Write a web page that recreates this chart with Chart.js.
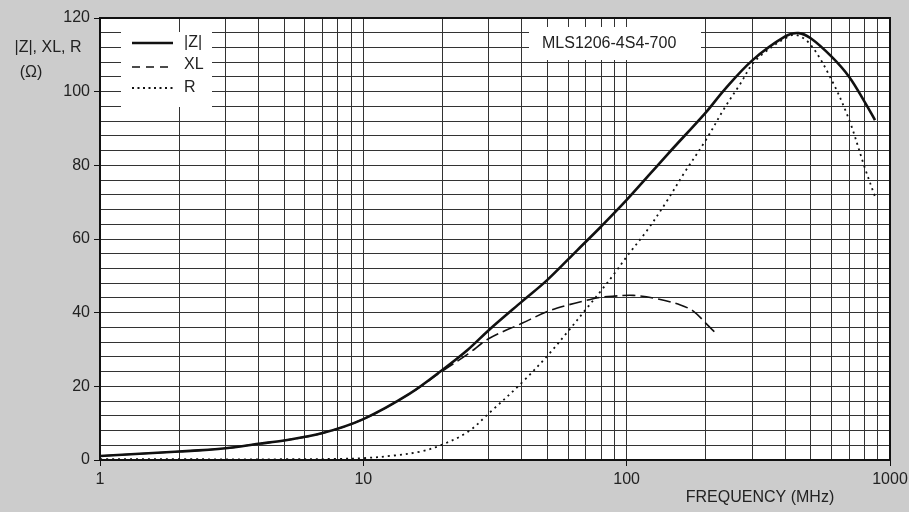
<!DOCTYPE html>
<html>
<head>
<meta charset="utf-8">
<script src="https://cdn.jsdelivr.net/npm/chart.js@4"></script>
<style>
  html, body { margin: 0; padding: 0; background: #cccccc; }
  #wrap { width: 909px; height: 512px; }
</style>
</head>
<body>
<div id="wrap"><canvas id="chart" width="909" height="512"></canvas></div>
<script>
// |Z| curve
const zFreq = [1, 2, 3, 4, 5, 7, 10, 15, 20, 25, 30, 40, 50, 65, 80, 100, 143, 200, 235, 300, 400, 450, 500, 600, 700, 800, 877];
const zVals = [1.1, 2.3, 3.2, 4.4, 5.3, 7.3, 11.1, 18, 24.5, 30, 35.3, 43, 48.9, 57, 63.4, 70.6, 83, 94.4, 100.5, 108.5, 115, 115.9, 114.5, 109.5, 104, 97.3, 92.3];

// XL curve
const xlFreq = [1, 2, 3, 4, 5, 7, 10, 15, 20, 25, 30, 40, 50, 60, 70, 80, 90, 106, 130, 160, 180, 200, 218];
const xlVals = [1.1, 2.3, 3.2, 4.4, 5.3, 7.3, 11.1, 18, 24.2, 28.8, 33, 37.1, 40.3, 42.1, 43.3, 44.2, 44.5, 44.7, 43.8, 42.1, 40.3, 37.1, 34.4];

// R curve
const rFreq = [1, 2, 5, 8, 10, 13, 16.5, 20, 25, 30, 40, 50, 60, 70, 80, 90, 100, 120, 143, 165, 200, 235, 271, 300, 332, 400, 440, 500, 600, 700, 800, 877];
const rVals = [0.2, 0.2, 0.2, 0.3, 0.5, 1.2, 2.3, 4.2, 7.7, 12.7, 21, 28.3, 35, 40.9, 46, 50.7, 55.2, 62.5, 70.6, 77.8, 86.9, 95.5, 102.3, 107.5, 110.5, 114.5, 115.4, 112.7, 103.2, 92.3, 79.6, 71.5];

const xTicks = [1, 2, 3, 4, 5, 6, 7, 8, 9, 10, 20, 30, 40, 50, 60, 70, 80, 90, 100, 200, 300, 400, 500, 600, 700, 800, 900, 1000];
const xLabels = [1, 10, 100, 1000];
const yLabelStep = 20;

const partName = "MLS1206-4S4-700";
const yTitle = ["|Z|, XL, R", "(Ω)"];
const xTitle = "FREQUENCY (MHz)";

const FONT = "'Liberation Sans', Arial, sans-serif";
const INK = "#222";

function pts(xs, ys) {
  return xs.map((x, i) => ({ x: x, y: ys[i] }));
}

const series = [
  { label: "|Z|", data: pts(zFreq, zVals), width: 2.6, dash: [] },
  { label: "XL", data: pts(xlFreq, xlVals), width: 1.6, dash: [13, 5] },
  { label: "R", data: pts(rFreq, rVals), width: 1.8, dash: [2, 4] },
];

// fond blanc de la zone de tracé + cadre
const plotFrame = {
  id: "plotFrame",
  beforeDraw(chart) {
    const { ctx, chartArea: a } = chart;
    ctx.save();
    ctx.fillStyle = "#ffffff";
    ctx.fillRect(a.left, a.top, a.right - a.left, a.bottom - a.top);
    ctx.restore();
  },
  afterDraw(chart) {
    const { ctx, chartArea: a } = chart;
    ctx.save();
    ctx.strokeStyle = "#111";
    ctx.lineWidth = 2;
    ctx.strokeRect(a.left, a.top, a.right - a.left, a.bottom - a.top);
    ctx.restore();
  },
};

// légende, étiquette de la référence et titres des axes
const annotations = {
  id: "annotations",
  afterDatasetsDraw(chart) {
    const { ctx } = chart;
    ctx.save();

    // boîte de légende
    ctx.fillStyle = "#ffffff";
    ctx.fillRect(121, 32, 91, 75);
    const rows = [43, 67, 88];
    series.forEach((s, i) => {
      ctx.beginPath();
      ctx.strokeStyle = "#111";
      ctx.lineWidth = s.width;
      ctx.setLineDash(i === 1 ? [8, 6] : i === 2 ? [2, 3.5] : []);
      ctx.moveTo(132, rows[i]);
      ctx.lineTo(173, rows[i]);
      ctx.stroke();
      ctx.setLineDash([]);
      ctx.fillStyle = INK;
      ctx.font = "16px " + FONT;
      ctx.textBaseline = "middle";
      ctx.textAlign = "left";
      ctx.fillText(s.label, 184, rows[i] - (i === 1 ? 2 : 0));
    });

    // étiquette de la pièce
    ctx.fillStyle = "#ffffff";
    ctx.fillRect(529, 27, 172, 33);
    ctx.fillStyle = INK;
    ctx.font = "16px " + FONT;
    ctx.textBaseline = "middle";
    ctx.textAlign = "left";
    ctx.fillText(partName, 542, 44);

    // titre de l'axe Y
    ctx.textAlign = "center";
    ctx.fillText(yTitle[0], 48, 48);
    ctx.fillText(yTitle[1], 31, 73);

    // titre de l'axe X
    ctx.fillText(xTitle, 760, 498);
    ctx.restore();
  },
};

new Chart(document.getElementById("chart"), {
  type: "line",
  data: {
    datasets: series.map((s) => ({
      label: s.label,
      data: s.data,
      borderColor: "#111",
      borderWidth: s.width,
      borderDash: s.dash,
      pointRadius: 0,
      fill: false,
      tension: 0.35,
    })),
  },
  options: {
    responsive: false,
    animation: false,
    layout: { padding: { top: 18, right: 19, left: 0, bottom: 0 } },
    plugins: {
      legend: { display: false },
      tooltip: { enabled: false },
    },
    scales: {
      x: {
        type: "logarithmic",
        min: 1,
        max: 1000,
        afterBuildTicks(scale) {
          scale.ticks = xTicks.map((v) => ({ value: v }));
        },
        afterFit(scale) {
          scale.height = 52;
          scale.paddingLeft = 0;
          scale.paddingRight = 0;
        },
        ticks: {
          autoSkip: false,
          maxRotation: 0,
          padding: 4,
          color: INK,
          font: { family: FONT, size: 16 },
          callback: (v) => (xLabels.includes(v) ? String(v) : ""),
        },
        grid: {
          color: "#333",
          lineWidth: 1,
          tickLength: 6,
          tickColor: (c) => (c.tick && xLabels.includes(c.tick.value) ? "#111" : "rgba(0,0,0,0)"),
        },
        border: { display: false },
      },
      y: {
        min: 0,
        max: 120,
        afterFit(scale) {
          scale.width = 100;
          scale.paddingTop = 0;
          scale.paddingBottom = 0;
        },
        ticks: {
          stepSize: 4,
          autoSkip: false,
          padding: 4,
          color: INK,
          font: { family: FONT, size: 16 },
          callback: (v) => (v % yLabelStep === 0 ? String(v) : ""),
        },
        grid: {
          color: "#333",
          lineWidth: 1,
          tickLength: 6,
          tickColor: (c) => (c.tick && c.tick.value % yLabelStep === 0 ? "#111" : "rgba(0,0,0,0)"),
        },
        border: { display: false },
      },
    },
  },
  plugins: [plotFrame, annotations],
});
</script>
</body>
</html>
